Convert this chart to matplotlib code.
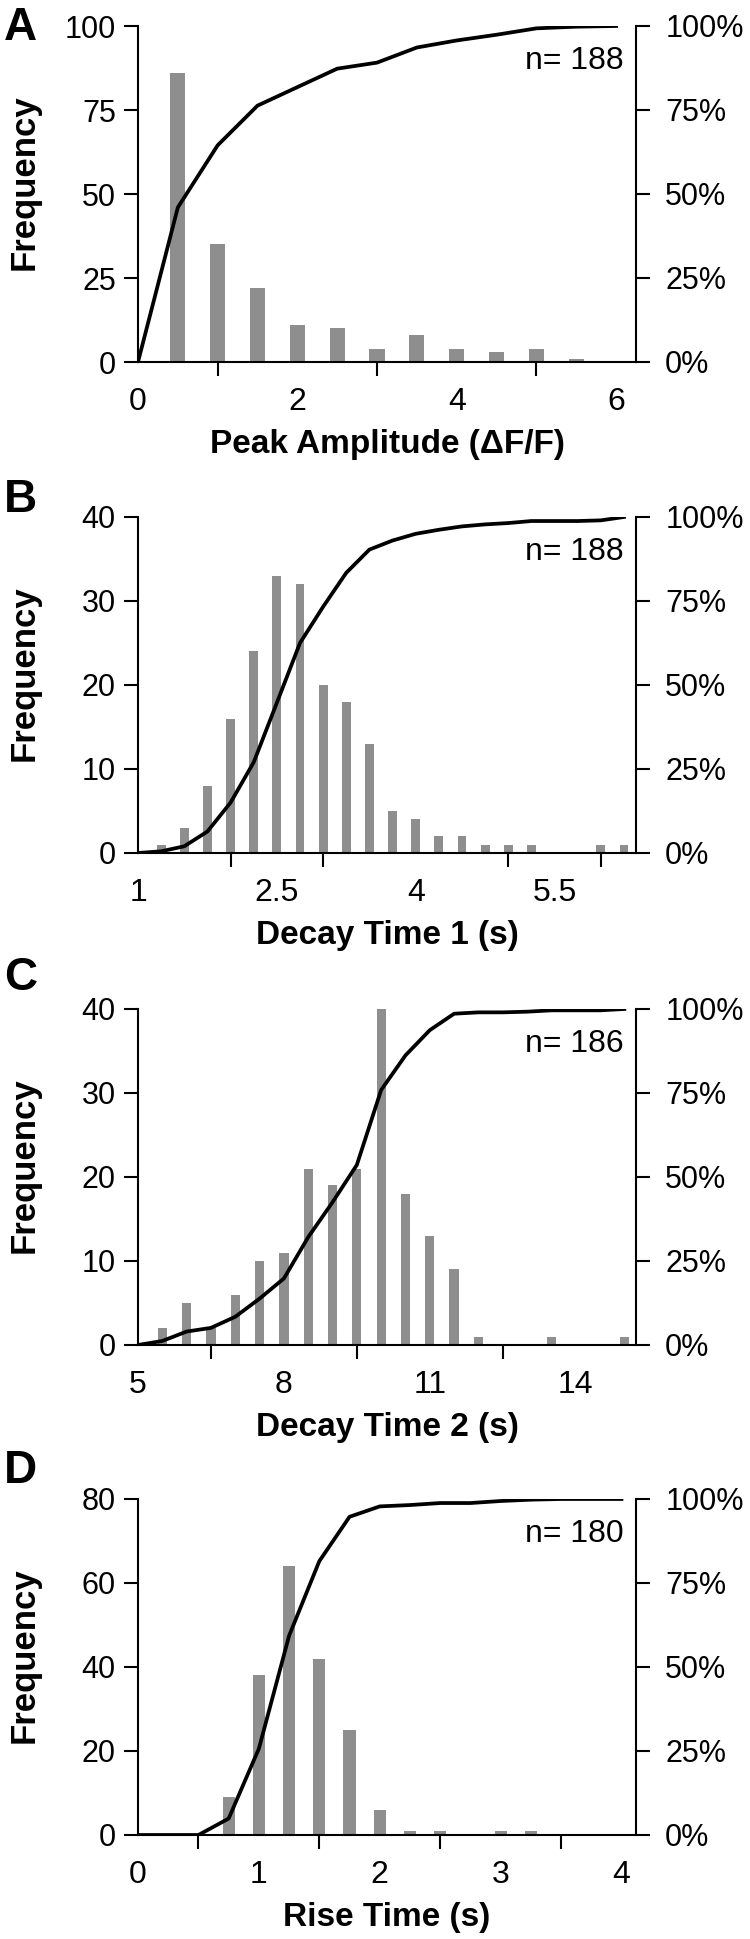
import matplotlib
matplotlib.use("Agg")
import matplotlib.pyplot as plt

plt.rcParams['font.family'] = ['Liberation Sans', 'DejaVu Sans']

# panel A - peak amplitude
a_bins = [0.5, 1.0, 1.5, 2.0, 2.5, 3.0, 3.5, 4.0, 4.5, 5.0, 5.5]
a_counts = [86, 35, 22, 11, 10, 4, 8, 4, 3, 4, 1]
a_cum_x = [0, 0.5, 1.0, 1.5, 2.0, 2.5, 3.0, 3.5, 4.0, 4.5, 5.0, 5.5, 6.0]
a_cum = [0, 46, 64.5, 76.3, 81.8, 87.3, 89.1, 93.6, 95.7, 97.4, 99.3, 99.8, 100]

# panel B - decay time 1
b_bins = [1.25, 1.5, 1.75, 2.0, 2.25, 2.5, 2.75, 3.0, 3.25, 3.5, 3.75,
          4.0, 4.25, 4.5, 4.75, 5.0, 5.25, 5.5, 5.75, 6.0, 6.25]
b_counts = [1, 3, 8, 16, 24, 33, 32, 20, 18, 13, 5, 4, 2, 2, 1, 1, 1, 0, 0, 1, 1]
b_cum_x = [1.0] + b_bins
b_cum = [0, 0.5, 2, 6.4, 15, 27, 44.7, 62.5, 73.3, 83.4, 90.3, 93, 95, 96.2,
         97.2, 97.8, 98.2, 98.8, 98.8, 98.8, 99, 100]

# panel C - decay time 2
c_bins = [5.5, 6.0, 6.5, 7.0, 7.5, 8.0, 8.5, 9.0, 9.5, 10.0, 10.5, 11.0,
          11.5, 12.0, 12.5, 13.0, 13.5, 14.0, 14.5, 15.0]
c_counts = [2, 5, 2, 6, 10, 11, 21, 19, 21, 40, 18, 13, 9, 1, 0, 0, 1, 0, 0, 1]
c_cum_x = [5.0] + c_bins
c_cum = [0, 1.2, 4, 5.1, 8.4, 13.8, 19.8, 32.1, 42.5, 53.6, 75.9, 86.2, 93.7,
         98.6, 99, 99, 99.2, 99.6, 99.6, 99.6, 100]

# panel D - rise time
d_bins = [0.25, 0.5, 0.75, 1.0, 1.25, 1.5, 1.75, 2.0, 2.25, 2.5, 2.75, 3.0,
          3.25, 3.5, 3.75, 4.0]
d_counts = [0, 0, 9, 38, 64, 42, 25, 6, 1, 1, 0, 1, 1, 0, 0, 0]
d_cum_x = [0.0] + d_bins
d_cum = [0, 0, 0, 4.9, 25.7, 59.3, 81.5, 94.7, 97.8, 98.2, 98.8, 98.8, 99.4,
         99.8, 100, 100, 100]

panels = [
    dict(letter="A", bins=a_bins, counts=a_counts, cx=a_cum_x, cy=a_cum, width=0.19,
         xlim=(0, 6.25), ymax=100, yticks=[0, 25, 50, 75, 100],
         marks=[0, 1, 2, 3, 4, 5, 6], labels=[0, 2, 4, 6],
         xlabel="Peak Amplitude (ΔF/F)", n="n= 188"),
    dict(letter="B", bins=b_bins, counts=b_counts, cx=b_cum_x, cy=b_cum, width=0.095,
         xlim=(1, 6.38), ymax=40, yticks=[0, 10, 20, 30, 40],
         marks=[1, 2, 3, 4, 5, 6], labels=[1, 2.5, 4, 5.5],
         xlabel="Decay Time 1 (s)", n="n= 188"),
    dict(letter="C", bins=c_bins, counts=c_counts, cx=c_cum_x, cy=c_cum, width=0.19,
         xlim=(5, 15.24), ymax=40, yticks=[0, 10, 20, 30, 40],
         marks=[5, 6.5, 8, 9.5, 11, 12.5, 14], labels=[5, 8, 11, 14],
         xlabel="Decay Time 2 (s)", n="n= 186"),
    dict(letter="D", bins=d_bins, counts=d_counts, cx=d_cum_x, cy=d_cum, width=0.1,
         xlim=(0, 4.12), ymax=80, yticks=[0, 20, 40, 60, 80],
         marks=[0, 0.5, 1, 1.5, 2, 2.5, 3, 3.5, 4], labels=[0, 1, 2, 3, 4],
         xlabel="Rise Time (s)", n="n= 180"),
]

W, H = 750, 1939
fig = plt.figure(figsize=(W / 100, H / 100), dpi=100)

ax_tops = [26, 517, 1009, 1499]   # pixel rows of the axes tops
letter_tops = [6, 478, 956, 1449]
ax_left, ax_right, ax_h = 138, 636, 336

for p, top, ltop in zip(panels, ax_tops, letter_tops):
    ax = fig.add_axes([ax_left / W, 1 - (top + ax_h) / H, (ax_right - ax_left) / W, ax_h / H])
    ax.bar(p["bins"], p["counts"], width=p["width"], color="#8e8e8e", zorder=2)
    ax.set_xlim(*p["xlim"])
    ax.set_ylim(0, p["ymax"])
    ax.set_yticks(p["yticks"])
    ax.set_xticks(p["labels"])
    ax.set_xticklabels(["{:g}".format(v) for v in p["labels"]])
    ax.set_xticks(p["marks"], minor=True)
    ax.tick_params(axis="x", which="major", length=0, pad=18, labelsize=23)
    ax.tick_params(axis="x", which="minor", length=10, width=1.5, direction="out")
    ax.tick_params(axis="y", length=10, width=1.5, direction="out", pad=6, labelsize=22)
    for s in ["top", "right"]:
        ax.spines[s].set_visible(False)
    for s in ["left", "bottom"]:
        ax.spines[s].set_linewidth(1.5)

    ax.set_xlabel(p["xlabel"], fontsize=24, fontweight="bold")
    ax.xaxis.set_label_coords(0.5, -0.2)
    ax.set_ylabel("Frequency", fontsize=25, fontweight="bold")
    ax.yaxis.set_label_coords(-0.195, 0.535)

    ax2 = ax.twinx()
    ax2.plot(p["cx"], p["cy"], color="black", lw=2.7, zorder=3)
    ax2.set_ylim(0, 100)
    ax2.set_yticks([0, 25, 50, 75, 100])
    ax2.set_yticklabels(["0%", "25%", "50%", "75%", "100%"])
    ax2.tick_params(axis="y", length=10, width=1.5, direction="out", pad=11, labelsize=22)
    for s in ["top", "left", "bottom"]:
        ax2.spines[s].set_visible(False)
    ax2.spines["right"].set_linewidth(1.5)

    ax2.text(0.976, 0.94, p["n"], transform=ax2.transAxes, ha="right", va="top", fontsize=23)

    fig.text(4 / W, 1 - ltop / H, p["letter"], fontsize=33, fontweight="bold", va="top", ha="left")

fig.savefig("out.png", dpi=100)
